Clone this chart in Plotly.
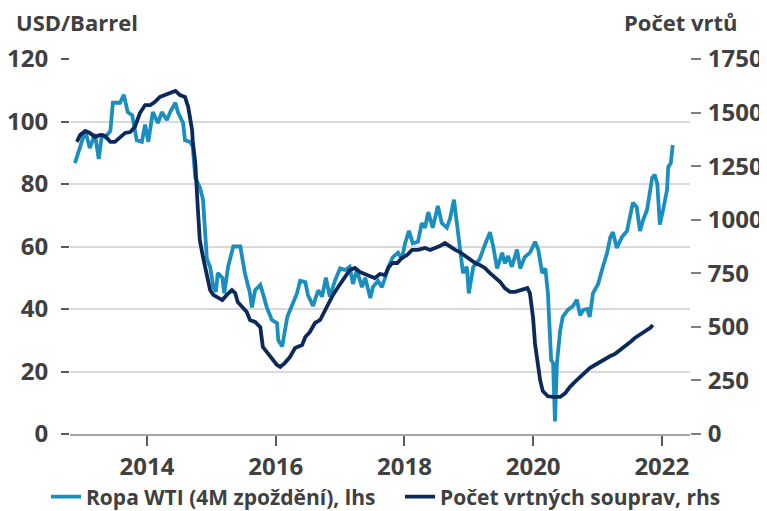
import plotly.graph_objects as go

# WTI crude (4M lag), USD/barrel - left axis
wti_t = [2012.88, 2013.04, 2013.11, 2013.19, 2013.25, 2013.30, 2013.35, 2013.43, 2013.47, 2013.58,
         2013.64, 2013.70, 2013.77, 2013.84, 2013.92, 2013.97, 2014.02, 2014.09, 2014.17, 2014.23,
         2014.31, 2014.36, 2014.44, 2014.48, 2014.56, 2014.59, 2014.67, 2014.71, 2014.75, 2014.82,
         2014.87, 2014.93, 2014.98, 2015.03, 2015.07, 2015.10, 2015.17, 2015.20, 2015.26, 2015.34,
         2015.45, 2015.52, 2015.60, 2015.63, 2015.68, 2015.76, 2015.80, 2015.86, 2015.94, 2016.02,
         2016.04, 2016.10, 2016.18, 2016.22, 2016.27, 2016.33, 2016.38, 2016.46, 2016.50, 2016.58,
         2016.66, 2016.72, 2016.78, 2016.84, 2016.92, 2017.00, 2017.08, 2017.15, 2017.20, 2017.26,
         2017.34, 2017.39, 2017.47, 2017.51, 2017.59, 2017.65, 2017.70, 2017.75, 2017.82, 2017.90,
         2017.96, 2018.01, 2018.07, 2018.13, 2018.21, 2018.27, 2018.32, 2018.37, 2018.44, 2018.52,
         2018.58, 2018.66, 2018.71, 2018.77, 2018.83, 2018.91, 2018.97, 2019.00, 2019.07, 2019.17,
         2019.25, 2019.33, 2019.38, 2019.44, 2019.52, 2019.56, 2019.61, 2019.67, 2019.75, 2019.80,
         2019.87, 2019.95, 2020.03, 2020.08, 2020.14, 2020.19, 2020.23, 2020.28, 2020.31, 2020.34,
         2020.37, 2020.42, 2020.46, 2020.54, 2020.62, 2020.68, 2020.73, 2020.78, 2020.84, 2020.88,
         2020.93, 2021.01, 2021.07, 2021.15, 2021.20, 2021.24, 2021.30, 2021.38, 2021.46, 2021.51,
         2021.55, 2021.61, 2021.66, 2021.71, 2021.77, 2021.85, 2021.89, 2021.93, 2021.97, 2022.02,
         2022.08, 2022.10, 2022.14, 2022.17]
wti_v = [86.7, 97, 91.5, 96, 88, 96, 95, 97, 106, 106,
         108.5, 103, 102, 94, 93.5, 99, 93.5, 103, 99.5, 103,
         100.5, 103, 106, 103, 99.5, 94, 93.5, 92, 82, 79,
         75, 56, 53.5, 47, 45.5, 51.5, 50, 45, 53.5, 60,
         60, 51.5, 45, 40.5, 46, 47.7, 45, 40.6, 36.5, 35.5,
         30, 28, 37.5, 39.7, 42, 45, 49, 48.6, 44.5, 41,
         46, 44, 50, 44, 49, 53, 52.5, 53.5, 48, 52.5,
         47, 50, 43.5, 47, 49, 47, 50, 53.5, 56.6, 58,
         56, 61, 65, 61, 61.5, 67.5, 66, 71, 66, 73,
         67.5, 66, 69, 75, 65, 51.5, 53.5, 45, 53.5, 56,
         60.5, 64.6, 60, 53, 58, 54.6, 57, 53.5, 59, 53,
         56.6, 58, 61.5, 59, 51.5, 53, 45, 23.7, 22.7, 4,
         22.7, 33, 37.5, 39.7, 41, 43, 38, 39.7, 40, 37.5,
         45, 48, 52.5, 58, 63, 64.6, 59.5, 63, 65, 70.7,
         74, 72.6, 65, 68.5, 71.7, 82, 83, 80, 67, 71.7,
         78, 85.5, 86.7, 92.5]

# Rig count - right axis
rig_t = [2012.91, 2012.96, 2013.04, 2013.11, 2013.19, 2013.27, 2013.35, 2013.43, 2013.50, 2013.58,
         2013.66, 2013.74, 2013.81, 2013.89, 2013.97, 2014.05, 2014.12, 2014.20, 2014.28, 2014.36,
         2014.44, 2014.51, 2014.59, 2014.64, 2014.67, 2014.70, 2014.71, 2014.75, 2014.79, 2014.82,
         2014.87, 2014.93, 2014.98, 2015.03, 2015.10, 2015.17, 2015.24, 2015.32, 2015.37, 2015.41,
         2015.48, 2015.55, 2015.60, 2015.68, 2015.76, 2015.80, 2015.86, 2015.94, 2016.02, 2016.07,
         2016.14, 2016.22, 2016.30, 2016.41, 2016.46, 2016.53, 2016.61, 2016.69, 2016.77, 2016.84,
         2016.89, 2016.97, 2017.05, 2017.15, 2017.23, 2017.31, 2017.42, 2017.50, 2017.54, 2017.62,
         2017.70, 2017.75, 2017.81, 2017.89, 2017.96, 2018.04, 2018.12, 2018.21, 2018.32, 2018.40,
         2018.44, 2018.55, 2018.63, 2018.71, 2018.79, 2018.86, 2018.94, 2019.02, 2019.10, 2019.17,
         2019.25, 2019.33, 2019.41, 2019.49, 2019.56, 2019.64, 2019.72, 2019.80, 2019.91, 2019.95,
         2020.00, 2020.03, 2020.08, 2020.11, 2020.15, 2020.23, 2020.31, 2020.42, 2020.50, 2020.57,
         2020.65, 2020.73, 2020.81, 2020.88, 2020.96, 2021.04, 2021.12, 2021.20, 2021.27, 2021.35,
         2021.43, 2021.51, 2021.58, 2021.66, 2021.74, 2021.82, 2021.86]
rig_v = [1363, 1395, 1414, 1405, 1386, 1395, 1391, 1363, 1363, 1386,
         1405, 1409, 1433, 1498, 1535, 1535, 1549, 1573, 1582, 1591,
         1601, 1582, 1573, 1526, 1479, 1419, 1370, 1265, 1050, 905,
         826, 751, 672, 649, 635, 625, 649, 672, 658, 616,
         593, 569, 532, 523, 499, 406, 383, 355, 322, 313,
         331, 359, 401, 415, 453, 476, 518, 532, 579, 611,
         649, 686, 719, 765, 775, 756, 742, 733, 728, 747,
         742, 775, 798, 798, 821, 835, 859, 859, 868, 859,
         863, 877, 891, 873, 859, 849, 831, 812, 798, 789,
         775, 751, 728, 709, 681, 663, 663, 672, 681, 658,
         540, 420, 300, 250, 200, 176, 173, 173, 191, 219,
         243, 266, 289, 308, 322, 336, 355, 364, 373, 392,
         406, 429, 448, 462, 476, 495, 509]

x_ticks = [2014, 2016, 2018, 2020, 2022]
left_ticks = [0, 20, 40, 60, 80, 100, 120]
right_ticks = [0, 250, 500, 750, 1000, 1250, 1500, 1750]

LIGHT = "#1b8ec0"
DARK = "#0b2a5b"
TXT = "#404040"
FONT = "Open Sans"

fig = go.Figure()
fig.add_trace(go.Scatter(x=wti_t, y=wti_v, mode="lines", name="Ropa WTI (4M zpoždění), lhs",
                         line=dict(color=LIGHT, width=3.8), yaxis="y", legend="legend"))
fig.add_trace(go.Scatter(x=rig_t, y=rig_v, mode="lines", name="Počet vrtných souprav, rhs",
                         line=dict(color=DARK, width=3.8), yaxis="y2", legend="legend2"))

tickfont = dict(family=FONT, size=24, color=TXT, weight="bold")
legfont = dict(family=FONT, size=21, color=TXT, weight="bold")

# page body has an 8px margin, so the figure is drawn at (8, 8)
W, H = 759, 503
PL, PT, PR, PB = 62, 51, 682, 426  # plot box inside the figure
fig.update_layout(
    width=W, height=H,
    margin=dict(l=PL, r=W - PR, t=PT, b=H - PB, autoexpand=False),
    plot_bgcolor="white", paper_bgcolor="white",
    showlegend=True,
    legend=dict(orientation="h", xref="container", yref="container",
                x=38 / W, xanchor="left", y=14 / H, yanchor="middle",
                font=legfont, bgcolor="rgba(0,0,0,0)"),
    legend2=dict(orientation="h", xref="container", yref="container",
                 x=392 / W, xanchor="left", y=14 / H, yanchor="middle",
                 font=legfont, bgcolor="rgba(0,0,0,0)"),
    xaxis=dict(range=[2012.803, 2022.438], tickvals=x_ticks, ticktext=[str(v) for v in x_ticks],
               showgrid=False, showline=True, linecolor="#a6a6a6", linewidth=2,
               ticks="outside", ticklen=10, tickwidth=2, tickcolor="#595959",
               tickfont=tickfont, zeroline=False),
    yaxis=dict(range=[0, 120], tickvals=left_ticks, showgrid=True, gridcolor="#d9d9d9", gridwidth=1.5,
               ticks="outside", ticklen=8, tickwidth=1.5, tickcolor="#595959",
               ticklabelstandoff=8,
               tickfont=tickfont, zeroline=False, showline=False),
    yaxis2=dict(range=[0, 1750], tickvals=right_ticks, overlaying="y", side="right",
                showgrid=False, ticks="outside", ticklen=10, tickwidth=1.5, tickcolor="#7f7f7f",
                ticklabelstandoff=2,
                tickfont=tickfont, zeroline=False, showline=False),
)

fig.add_annotation(text="USD/Barrel", xref="paper", yref="paper", x=-56 / 620, y=1 + 37 / 375,
                   xanchor="left", yanchor="middle", showarrow=False,
                   font=dict(family=FONT, size=22, color=TXT, weight="bold"))
fig.add_annotation(text="Počet vrtů", xref="paper", yref="paper", x=1 + 50 / 620, y=1 + 37 / 375,
                   xanchor="right", yanchor="middle", showarrow=False,
                   font=dict(family=FONT, size=22, color=TXT, weight="bold"))

fig.write_html("out.html")
